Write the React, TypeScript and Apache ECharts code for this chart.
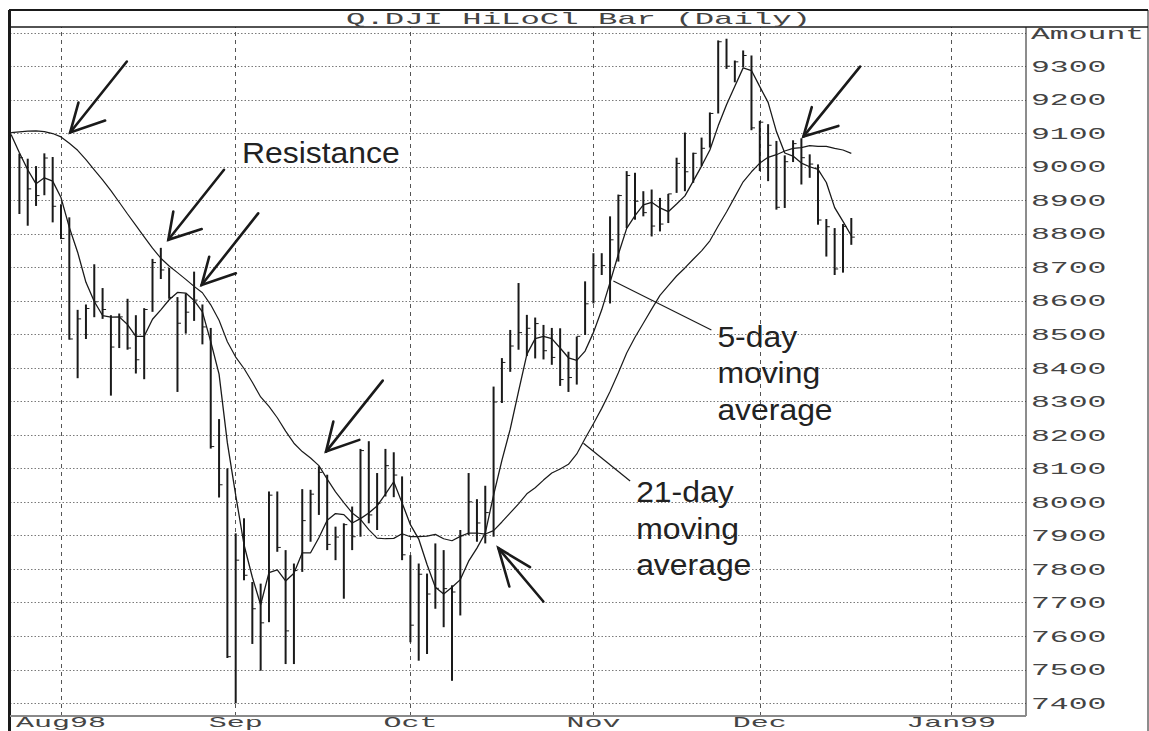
import React, { useEffect, useRef } from "react";
import * as echarts from "echarts";

// ---------------- data (Q.DJI daily, 27 Jul 1998 = day 0) ----------------
const highs = [
  9040, 9025, 9003, 9041, 9030,
  8889, 8850, 8574, 8590, 8710, 8639, 8558, 8563, 8607, 8558, 8579, 8726, 8759, 8699, 8612, 8623, 8688, 8590, 8520, 8248, 8101,
  7907, 7952, 7762, 7757, 8032, 8032, 7857, 7817, 8039, 8037, 8107, 8082, 7927, 7937, 7987, 8159, 8182, 8087, 8159, 8149, 8077,
  7842, 7817, 7787, 7877, 7857, 7752, 7917, 8087, 8009, 8049, 8345, 8430, 8514, 8654, 8559, 8551, 8529, 8520, 8519, 8449, 8494, 8659,
  8743, 8743, 8853, 8918, 8988, 8983, 8928, 8933, 8908, 8920, 9028, 9103, 9043, 9088, 9163, 9378, 9383, 9318, 9348, 9333,
  9138, 9128, 9078, 9035, 9080, 9086, 9038, 9008, 8845, 8818, 8830, 8848,
];
const lows = [
  8860, 8825, 8884, 8916, 8835,
  8785, 8485, 8370, 8487, 8552, 8547, 8318, 8460, 8455, 8384, 8367, 8568, 8666, 8607, 8329, 8503, 8541, 8471, 8160, 8014, 7535,
  7400, 7767, 7577, 7497, 7642, 7852, 7517, 7517, 7792, 7882, 7962, 7857, 7827, 7712, 7857, 7897, 7937, 7917, 8017, 8015, 7827,
  7582, 7527, 7547, 7682, 7627, 7467, 7662, 7902, 7882, 7877, 7897, 8296, 8389, 8455, 8436, 8429, 8426, 8410, 8347, 8329, 8351, 8499,
  8593, 8678, 8593, 8718, 8818, 8843, 8853, 8793, 8808, 8833, 8923, 8928, 8953, 9003, 9058, 9160, 9293, 9253, 9298, 9110,
  8988, 8958, 8873, 8878, 9015, 8948, 8968, 8828, 8733, 8678, 8685, 8768,
];
const closes = [
  9028, 8935, 8915, 9027, 8883,
  8787, 8487, 8547, 8578, 8598, 8575, 8463, 8553, 8460, 8425, 8575, 8715, 8693, 8611, 8534, 8567, 8603, 8523, 8166, 8052, 7539,
  7827, 7782, 7682, 7640, 8021, 7865, 7616, 7796, 7945, 8024, 8089, 7874, 7896, 7933, 7897, 8154, 7962, 7997, 8109, 8081, 7843,
  7633, 7785, 7726, 7743, 7742, 7732, 7900, 8001, 7938, 7969, 8299, 8417, 8466, 8506, 8519, 8533, 8452, 8432, 8366, 8372, 8495, 8592,
  8706, 8706, 8783, 8915, 8975, 8898, 8864, 8824, 8830, 8920, 9011, 8986, 9041, 9056, 9160, 9374, 9301, 9314, 9333, 9117,
  9134, 9065, 8880, 9016, 9070, 9028, 9009, 8842, 8822, 8696, 8823, 8791,
];
// moving averages, first value at day -1
const MA_START = -1;
const ma5 = [
  9097, 9043, 8992, 8950, 8968, 8958, 8909, 8820, 8746, 8656,
  8599, 8557, 8552, 8553, 8530, 8495, 8495, 8546, 8574, 8604,
  8626, 8624, 8602, 8568, 8479, 8382, 8177, 8021, 7873, 7776,
  7694, 7790, 7798, 7765, 7788, 7849, 7849, 7894, 7946, 7966,
  7963, 7938, 7951, 7968, 7989, 8024, 8061, 7998, 7933, 7890,
  7814, 7746, 7726, 7746, 7769, 7824, 7863, 7908, 8021, 8125,
  8218, 8331, 8441, 8488, 8495, 8488, 8460, 8431, 8423, 8451,
  8506, 8574, 8656, 8740, 8817, 8855, 8887, 8895, 8878, 8867,
  8890, 8914, 8958, 9003, 9051, 9123, 9186, 9241, 9296, 9288,
  9240, 9193, 9106, 9042, 9033, 9012, 9001, 8993, 8954, 8879,
  8838, 8795,
];
const ma21 = [
  9103, 9105, 9107, 9108, 9106, 9100, 9090, 9071, 9050, 9022,
  8992, 8962, 8930, 8895, 8860, 8826, 8792, 8758, 8728, 8705,
  8685, 8665, 8644, 8625, 8589, 8543, 8479, 8433, 8399, 8358,
  8314, 8286, 8252, 8212, 8176, 8151, 8132, 8109, 8069, 8031,
  7999, 7968, 7949, 7918, 7893, 7891, 7892, 7906, 7897, 7897,
  7899, 7904, 7891, 7885, 7898, 7908, 7908, 7905, 7915, 7941,
  7968, 7995, 8025, 8043, 8066, 8087, 8099, 8113, 8144, 8190,
  8234, 8280, 8330, 8386, 8445, 8492, 8534, 8576, 8617, 8646,
  8675, 8699, 8725, 8750, 8780, 8824, 8866, 8911, 8956, 8986,
  9012, 9029, 9037, 9048, 9056, 9058, 9064, 9062, 9062, 9056,
  9051, 9041,
];

// tick labels
const priceTicks = [7400, 7500, 7600, 7700, 7800, 7900, 8000, 8100, 8200, 8300, 8400, 8500, 8600, 8700, 8800, 8900, 9000, 9100, 9200, 9300];
const topTickValue = 9400;
const topTickLabel = "Amount";
const monthTickDays = [5, 26, 47, 69, 89, 112];
const monthTickLabels = ["Aug98", "Sep", "Oct", "Nov", "Dec", "Jan99"];
const TITLE = "Q.DJI HiLoCl Bar (Daily)";

// ---------------- layout ----------------
const W = 1149;
const H = 731;
const PLOT = { left: 10, right: 1026, top: 27, bottom: 716 };
const X_MIN = -1.13;
const X_MAX = 121;
const Y_MIN = 7362;
const Y_MAX = 9418;
const MONO = '"Liberation Mono", "DejaVu Sans Mono", monospace';
const SANS = '"Liberation Sans", Arial, sans-serif';
const INK = "#1a1a1a";
const LABEL_INK = "#444";

// annotation arrows: tip in data coords, other points as pixel offsets from tip
const arrows = [
  { at: [6.1, 9103], tail: [56.7, -71], wingA: [8.3, -30], wingB: [35, -12] },
  { at: [17.9, 8783], tail: [55.7, -70], wingA: [5, -28.3], wingB: [33.4, -10.7] },
  { at: [21.9, 8648], tail: [56.6, -71.7], wingA: [7.6, -28.3], wingB: [34.3, -11.7] },
  { at: [36.86, 8151], tail: [56.7, -71], wingA: [7.3, -30], wingB: [33.3, -11.7] },
  { at: [57.57, 7863], tail: [45, 53.4], wingA: [11, 38.4], wingB: [31.7, 19] },
  { at: [94.24, 9091], tail: [56.7, -70], wingA: [8.4, -29.4], wingB: [35, -10.7] },
];
const leaders = [
  { at: [71.4, 8660], end: [98, 49], text: "5-day\nmoving\naverage", textOffset: [6, -12] },
  { at: [67.8, 8176], end: [46.7, 37.7], text: "21-day\nmoving\naverage", textOffset: [6, -7.5] },
];
const resistanceLabel = { text: "Resistance", x: 242, y: 153 };

function buildGraphics(chart: any) {
  const px = (x: number, y: number): number[] => chart.convertToPixel({ gridIndex: 0 }, [x, y]);
  const els: any[] = [];
  const line = (x1: number, y1: number, x2: number, y2: number, stroke: string, lw: number, z = 100) =>
    els.push({ type: "line", z, silent: true, shape: { x1, y1, x2, y2 }, style: { stroke, lineWidth: lw } });

  // frame
  line(9, 10, 1148, 10, INK, 2);
  line(9.5, 10, 9.5, H, INK, 3);
  line(1148, 10, 1148, H, INK, 1);
  line(9, PLOT.top, 1148, PLOT.top, INK, 1.5);
  line(PLOT.right, PLOT.top, PLOT.right, PLOT.bottom, INK, 1);
  line(PLOT.left, PLOT.bottom, PLOT.right, PLOT.bottom, "#8a8a8a", 2);

  const monoText = (text: string, x: number, y: number, align: string, sx: number, size = 17) =>
    els.push({
      type: "text", z: 100, silent: true, x, y, scaleX: sx,
      style: {
        text, fill: LABEL_INK, font: `${size}px ${MONO}`,
        align, textAlign: align, verticalAlign: "middle", textVerticalAlign: "middle",
      },
    });

  // title
  monoText(TITLE, (9 + 1148) / 2, 19.5, "center", 1.9);

  // price labels
  priceTicks.forEach((v) => {
    const p = px(X_MIN, v);
    monoText(String(v), PLOT.right + 5, p[1] + 1, "left", 1.85);
  });
  monoText(topTickLabel, PLOT.right + 5, px(X_MIN, topTickValue)[1] + 1.5, "left", 1.85);

  // month labels
  monthTickDays.forEach((d, i) => {
    const p = px(d, Y_MIN);
    monoText(monthTickLabels[i], p[0], PLOT.bottom + 7, "center", 2.0, 15);
  });

  // arrows
  arrows.forEach((a) => {
    const t = px(a.at[0], a.at[1]);
    const o = (d: number[]) => [t[0] + d[0], t[1] + d[1]];
    const tail = o(a.tail);
    els.push({ type: "line", z: 110, silent: true, shape: { x1: t[0], y1: t[1], x2: tail[0], y2: tail[1] }, style: { stroke: INK, lineWidth: 2.6, lineCap: "round" } });
    els.push({ type: "polyline", z: 110, silent: true, shape: { points: [o(a.wingA), t, o(a.wingB)] }, style: { stroke: INK, lineWidth: 2.6, fill: null, lineJoin: "miter", lineCap: "round" } });
  });

  // leader lines + labels
  leaders.forEach((l) => {
    const s = px(l.at[0], l.at[1]);
    const e = [s[0] + l.end[0], s[1] + l.end[1]];
    els.push({ type: "line", z: 110, silent: true, shape: { x1: s[0], y1: s[1], x2: e[0], y2: e[1] }, style: { stroke: INK, lineWidth: 1.2 } });
    els.push({
      type: "text", z: 110, silent: true, x: e[0] + l.textOffset[0], y: e[1] + l.textOffset[1], scaleX: 1.1,
      style: { text: l.text, fill: "#222", font: `29px ${SANS}`, lineHeight: 36.5, align: "left", textAlign: "left", verticalAlign: "top", textVerticalAlign: "top" },
    });
  });
  els.push({
    type: "text", z: 110, silent: true, x: resistanceLabel.x, y: resistanceLabel.y, scaleX: 1.1,
    style: { text: resistanceLabel.text, fill: "#222", font: `29px ${SANS}`, align: "left", textAlign: "left", verticalAlign: "middle", textVerticalAlign: "middle" },
  });
  return els;
}

export default function App() {
  const ref = useRef<HTMLDivElement>(null);
  useEffect(() => {
    if (!ref.current) return;
    const chart = echarts.init(ref.current, null, { renderer: "svg", width: W, height: H });
    const barData = highs.map((h, i) => [i, h, lows[i], closes[i]]);
    const ma5Data = ma5.map((v, k) => [k + MA_START, v]);
    const ma21Data = ma21.map((v, k) => [k + MA_START, v]);
    const gridLines: any[] = [
      ...priceTicks.concat([topTickValue]).map((v) => ({ yAxis: v, lineStyle: { color: "#7a7a7a", width: 1, type: [1.5, 2] } })),
      ...monthTickDays.map((d) => ({ xAxis: d, lineStyle: { color: "#555", width: 1, type: [4, 4] } })),
    ];
    chart.setOption({
      animation: false,
      backgroundColor: "#fff",
      grid: { left: PLOT.left, top: PLOT.top, width: PLOT.right - PLOT.left, height: PLOT.bottom - PLOT.top, show: false },
      xAxis: {
        type: "value", min: X_MIN, max: X_MAX,
        axisLine: { show: false }, axisTick: { show: false }, axisLabel: { show: false }, splitLine: { show: false },
      },
      yAxis: {
        type: "value", position: "right", min: Y_MIN, max: Y_MAX, scale: true,
        axisLine: { show: false }, axisTick: { show: false }, axisLabel: { show: false }, splitLine: { show: false },
      },
      series: [
        {
          name: "21-day moving average", type: "line", data: ma21Data, symbol: "none", silent: true,
          lineStyle: { color: INK, width: 1.2 }, z: 3,
          markLine: { silent: true, symbol: ["none", "none"], label: { show: false }, emphasis: { disabled: true }, data: gridLines, z: 1 },
        },
        {
          name: "HiLoCl", type: "custom", silent: true, z: 4,
          data: barData,
          encode: { x: 0, y: [1, 2, 3] },
          renderItem: (params: any, api: any) => {
            const d = api.value(0);
            const hi = api.coord([d, api.value(1)]);
            const lo = api.coord([d, api.value(2)]);
            const cl = api.coord([d, api.value(3)]);
            return {
              type: "group",
              children: [
                { type: "line", shape: { x1: hi[0], y1: hi[1], x2: lo[0], y2: lo[1] }, style: { stroke: INK, lineWidth: 2 } },
                { type: "line", shape: { x1: cl[0], y1: cl[1], x2: cl[0] + 3.5, y2: cl[1] }, style: { stroke: INK, lineWidth: 1 } },
              ],
            };
          },
        },
        {
          name: "5-day moving average", type: "line", data: ma5Data, symbol: "none", silent: true,
          lineStyle: { color: INK, width: 1.3 }, z: 5,
        },
      ],
    });
    chart.setOption({ graphic: buildGraphics(chart) });
    return () => chart.dispose();
  }, []);
  return <div ref={ref} style={{ position: "fixed", left: 0, top: 0, width: W, height: H, background: "#fff" }} />;
}
